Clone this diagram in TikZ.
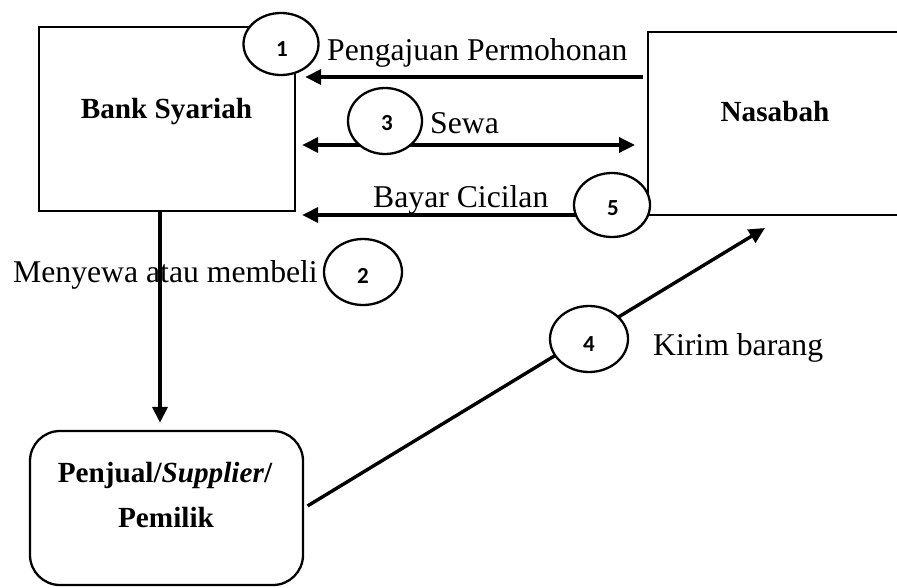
\documentclass[tikz,border=0pt]{standalone}
\usepackage{fontspec}
\setmainfont{Liberation Serif}
\newfontfamily\numfont{Carlito}
\usetikzlibrary{arrows.meta,shapes.geometric}
\begin{document}
\begin{tikzpicture}[x=1pt,y=-1pt,
  lbl/.style={font=\fontsize{31.7pt}{38pt}\selectfont,inner sep=0pt},
  blbl/.style={font=\fontsize{29.2pt}{35pt}\selectfont\bfseries,inner sep=0pt},
  num/.style={font=\fontsize{23pt}{27pt}\selectfont\numfont\bfseries,inner sep=0pt},
  oval/.style={ellipse,draw,fill=white,line width=2.3pt,inner sep=0pt},
  arr/.style={line width=3.4pt,-{Triangle[length=16pt,width=15pt]}},
  frame/.style={line width=2.3pt}
]
\useasboundingbox (0,0) rectangle (897,587);
% boxes
\node[draw,frame,minimum width=256pt,minimum height=184pt,inner sep=0pt] (bank) at (167,119) {};
\node[minimum width=249pt,minimum height=183pt,inner sep=0pt,outer sep=0pt] (nas) at (772.5,123.5) {};
\draw[frame] (nas.north east) -- (nas.north west) -- (nas.south west) -- (nas.south east);
\node[draw,frame,rounded corners=30pt,minimum width=273pt,minimum height=154pt,inner sep=0pt] (pen) at (166.5,508) {};
% texts
\node[blbl,anchor=base] (tbank) at (166.5,118) {Bank Syariah};
\node[blbl,anchor=base] (tnas) at (775,121) {Nasabah};
\node[blbl,anchor=base] (tpen1) at (165,482) {Penjual/\textit{Supplier}/};
\node[blbl,anchor=base] (tpen2) at (166,527) {Pemilik};
\node[lbl,anchor=base west] (t1) at (327,60) {Pengajuan Permohonan};
\node[lbl,anchor=base west] (t3) at (430,133) {Sewa};
\node[lbl,anchor=base west] (t5) at (373,207) {Bayar Cicilan};
\node[lbl,anchor=base west] (t2) at (13,282) {Menyewa atau membeli};
\node[lbl,anchor=base west] (t4) at (653,355) {Kirim barang};
% connectors
\draw[arr,shorten <=5pt,shorten >=9pt] (nas.west |- 0,77) -- (bank.east |- 0,77);
\draw[line width=3.4pt,{Triangle[length=16pt,width=15pt]}-{Triangle[length=16pt,width=15pt]},shorten <=6pt,shorten >=13pt] (bank.east |- 0,145) -- (nas.west |- 0,145);
\draw[arr,shorten >=6pt] (nas.south west) -- (bank.east |- nas.south west);
\draw[arr,shorten >=7pt] (bank.south -| 160,0) -- (pen.north -| 160,0);
\coordinate (k4end) at (765,228);
\draw[arr,shorten <=4pt] (pen.east) -- (k4end);
% circles
\node[oval,minimum width=75pt,minimum height=62pt] (c1) at (281,44) {};
\node[oval,minimum width=74pt,minimum height=66pt] (c3) at (385,121) {};
\node[oval,minimum width=76pt,minimum height=64pt] (c5) at (612,205) {};
\node[oval,minimum width=78pt,minimum height=66pt] (c2) at (363,272) {};
\node[oval,minimum width=78pt,minimum height=66pt] (c4) at (589,339) {};
\node[num] (n1) at (282,49) {1};
\node[num] (n3) at (387,123) {3};
\node[num] (n5) at (613,208) {5};
\node[num] (n2) at (363,276) {2};
\node[num] (n4) at (589,344) {4};
\end{tikzpicture}
\end{document}
